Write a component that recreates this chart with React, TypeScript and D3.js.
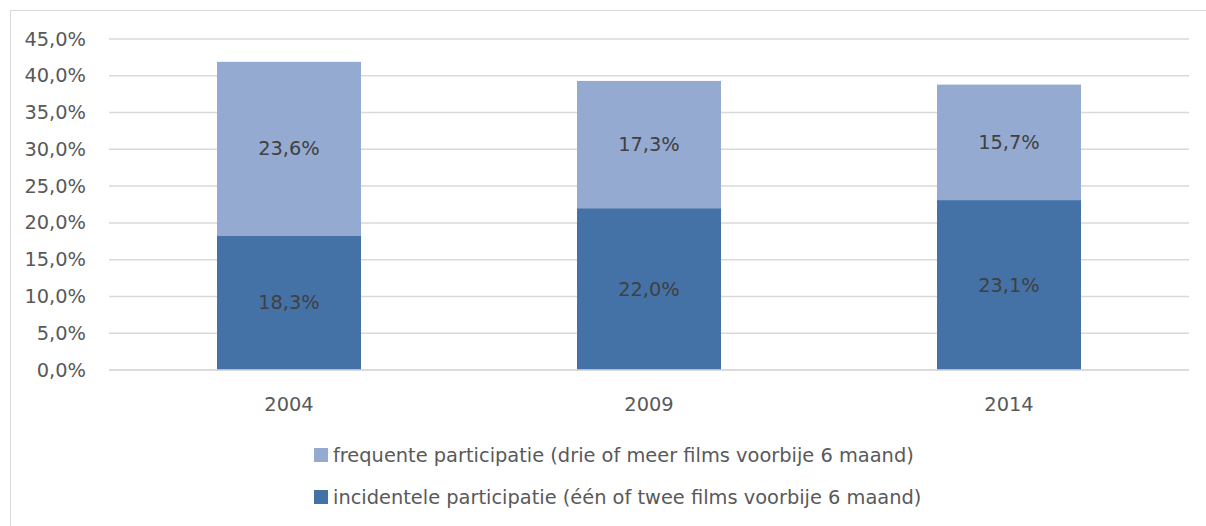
import React, { useEffect, useRef } from 'react';
import * as d3 from 'd3';

const years = ['2004', '2009', '2014'];
const incidenteel = [18.3, 22.0, 23.1];
const frequent = [23.6, 17.3, 15.7];
const yTicks = [0, 5, 10, 15, 20, 25, 30, 35, 40, 45];
const seriesNames = [
  'frequente participatie (drie of meer films voorbije 6 maand)',
  'incidentele participatie (één of twee films voorbije 6 maand)',
];
const colors = { light: '#95aad1', dark: '#4472a7' };

const W = 1206;
const H = 526;
const FONT = '"DejaVu Sans", sans-serif';
const FS = '19.4px';

const fmt = (v: number) => v.toFixed(1).replace('.', ',') + '%';

export default function App() {
  const ref = useRef<SVGSVGElement>(null);

  useEffect(() => {
    const svg = d3.select(ref.current);
    svg.selectAll('*').remove();

    // kader
    svg.append('rect')
      .attr('x', 10.5).attr('y', 10.5)
      .attr('width', W).attr('height', H)
      .attr('fill', 'none').attr('stroke', '#d9d9d9').attr('stroke-width', 1);

    const x = d3.scaleBand<string>()
      .domain(years)
      .range([109, 1189])
      .paddingInner(0.6)
      .paddingOuter(0.3);
    const y = d3.scaleLinear().domain([0, 45]).range([370, 39]);

    // rasterlijnen
    svg.append('g').selectAll('line')
      .data(yTicks)
      .enter().append('line')
      .attr('x1', 109).attr('x2', 1189)
      .attr('y1', d => y(d)).attr('y2', d => y(d))
      .attr('stroke', '#d9d9d9').attr('stroke-width', 1.5);

    svg.append('g').selectAll('text')
      .data(yTicks)
      .enter().append('text')
      .attr('x', 86).attr('y', d => y(d))
      .attr('text-anchor', 'end').attr('dominant-baseline', 'central')
      .style('font-family', FONT).style('font-size', FS).style('fill', '#595959')
      .text(d => fmt(d));

    const stack = d3.stack<any>().keys(['inc', 'freq']);
    const rows = years.map((yr, i) => ({ year: yr, inc: incidenteel[i], freq: frequent[i] }));
    const layers = stack(rows);
    const fills = [colors.dark, colors.light];

    layers.forEach((layer, li) => {
      const g = svg.append('g');
      g.selectAll('rect')
        .data(layer)
        .enter().append('rect')
        .attr('x', d => x(d.data.year)!)
        .attr('width', x.bandwidth())
        .attr('y', d => y(d[1]))
        .attr('height', d => y(d[0]) - y(d[1]))
        .attr('fill', fills[li]);
      g.selectAll('text')
        .data(layer)
        .enter().append('text')
        .attr('x', d => x(d.data.year)! + x.bandwidth() / 2)
        .attr('y', d => y((d[0] + d[1]) / 2))
        .attr('text-anchor', 'middle').attr('dominant-baseline', 'central')
        .style('font-family', FONT).style('font-size', FS).style('fill', '#404040')
        .text(d => fmt(d[1] - d[0]));
    });

    // x-as
    svg.append('line')
      .attr('x1', 109).attr('x2', 1189).attr('y1', y(0)).attr('y2', y(0))
      .attr('stroke', '#d9d9d9').attr('stroke-width', 1.5);
    svg.append('g').selectAll('text')
      .data(years)
      .enter().append('text')
      .attr('x', d => x(d)! + x.bandwidth() / 2)
      .attr('y', 404)
      .attr('text-anchor', 'middle').attr('dominant-baseline', 'central')
      .style('font-family', FONT).style('font-size', FS).style('fill', '#595959')
      .text(d => d);

    // legenda
    const legend = svg.append('g');
    const lg = legend.selectAll('g')
      .data(seriesNames)
      .enter().append('g')
      .attr('transform', (d, i) => `translate(314,${455 + i * 42})`);
    lg.append('rect')
      .attr('x', 0).attr('y', -7).attr('width', 14).attr('height', 14)
      .attr('fill', (d, i) => (i === 0 ? colors.light : colors.dark));
    lg.append('text')
      .attr('x', 19).attr('y', 0)
      .attr('dominant-baseline', 'central')
      .style('font-family', FONT).style('font-size', FS).style('fill', '#595959')
      .text(d => d);
  }, []);

  return <svg ref={ref} width={W} height={H} style={{ position: 'absolute', left: 0, top: 0 }} />;
}
